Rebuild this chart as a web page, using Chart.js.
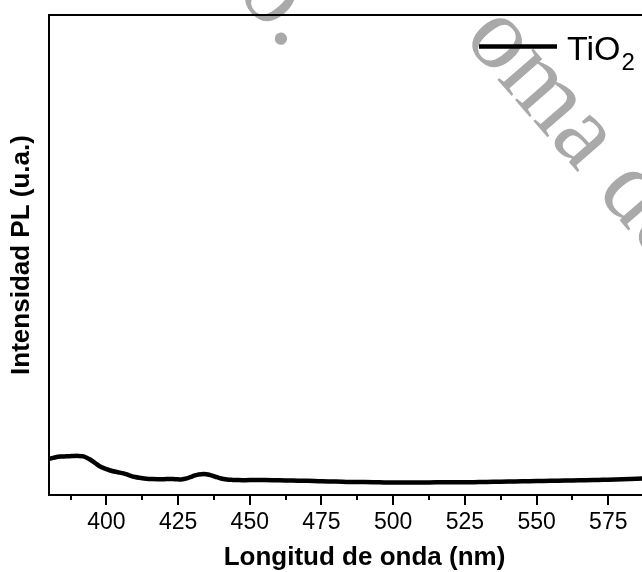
<!DOCTYPE html>
<html>
<head>
<meta charset="utf-8">
<script src="https://cdn.jsdelivr.net/npm/chart.js@4.4.1/dist/chart.umd.min.js"></script>
<style>
  html, body { margin: 0; padding: 0; overflow: hidden; background: #fff; }
  #wrap { width: 740px; height: 572px; }
</style>
</head>
<body>
<div id="wrap"><canvas id="plChart" width="740" height="572"></canvas></div>
<script>
// PL spectrum of TiO2 (arbitrary units)
const wavelength = [
  380, 382, 384, 386, 388, 390, 392, 394, 396, 398,
  400, 402, 404, 406, 408, 410, 412, 414, 416, 418,
  420, 422, 424, 426, 428, 430, 432, 434, 436, 438,
  440, 442, 444, 446, 450, 455, 460, 465, 470, 475,
  480, 485, 490, 495, 500, 505, 510, 515, 520, 525,
  530, 535, 540, 545, 550, 555, 560, 565, 570, 575,
  580, 585, 590, 595, 600,
];
const intensity = [
  75, 78, 80, 80.5, 81, 81.5, 80.5, 75, 67, 59,
  54, 50, 47.5, 45, 41, 37.5, 35.5, 34, 33.3, 33,
  33, 33.5, 33, 32.5, 34.5, 39, 42.5, 44, 42, 38,
  34.5, 32.5, 31.5, 31, 31, 31, 30.5, 30, 29.5, 28.5,
  28, 27, 27, 26.5, 26, 26, 26, 26.5, 26.5, 26.5,
  27, 27.5, 28, 28.5, 29, 29.5, 30, 30.5, 31, 32,
  33, 34, 35, 35.5, 36,
];
const majorTicks = [400, 425, 450, 475, 500, 525, 550, 575];
const minorTicks = [387.5, 412.5, 437.5, 462.5, 487.5, 512.5, 537.5, 562.5, 587.5];
const legendMain = "TiO";
const legendSub = "2";

const FONT = "'Liberation Sans', Arial, sans-serif";
const SERIF = "'Liberation Serif', 'Times New Roman', serif";

// grey diagonal watermark sitting behind the plot
const watermark = {
  id: "watermark",
  beforeDraw(chart) {
    const ctx = chart.ctx;
    const angle = 49 * Math.PI / 180;
    const size = 103;
    ctx.save();
    ctx.fillStyle = "#a9a9a9";
    ctx.font = size + "px " + SERIF;
    ctx.textBaseline = "alphabetic";
    const ow = ctx.measureText("o").width;

    ctx.save();
    ctx.translate(497, 43);
    ctx.rotate(angle);
    ctx.fillText("oma de", -ow / 2, size * 0.23);
    ctx.restore();

    ctx.save();
    ctx.translate(270, -3);
    ctx.rotate(angle);
    ctx.fillText("o.", -ow / 2, size * 0.23);
    ctx.restore();

    ctx.restore();
  },
};

// box frame plus major / minor tick marks on the x axis
const frame = {
  id: "frame",
  afterDraw(chart) {
    const { ctx, chartArea: a } = chart;
    const x = chart.scales.x;
    ctx.save();
    ctx.strokeStyle = "#000";
    ctx.lineWidth = 2;
    ctx.strokeRect(a.left, a.top, a.right - a.left, a.bottom - a.top);
    ctx.beginPath();
    majorTicks.forEach((v) => {
      const px = Math.round(x.getPixelForValue(v));
      ctx.moveTo(px, a.bottom);
      ctx.lineTo(px, a.bottom + 10);
    });
    minorTicks.forEach((v) => {
      const px = Math.round(x.getPixelForValue(v));
      ctx.moveTo(px, a.bottom);
      ctx.lineTo(px, a.bottom + 5);
    });
    ctx.stroke();
    ctx.restore();
  },
};

// legend entry with subscript
const legendBox = {
  id: "legendBox",
  afterDraw(chart) {
    const ctx = chart.ctx;
    ctx.save();
    ctx.strokeStyle = "#000";
    ctx.lineWidth = 4.5;
    ctx.beginPath();
    ctx.moveTo(479, 46.5);
    ctx.lineTo(557, 46.5);
    ctx.stroke();
    ctx.fillStyle = "#000";
    ctx.textBaseline = "alphabetic";
    ctx.font = "34px " + FONT;
    ctx.fillText(legendMain, 567, 60);
    const w = ctx.measureText(legendMain).width;
    ctx.font = "24px " + FONT;
    ctx.fillText(legendSub, 567 + w + 1, 70);
    ctx.restore();
  },
};

new Chart(document.getElementById("plChart"), {
  type: "line",
  data: {
    datasets: [
      {
        label: legendMain + legendSub,
        data: wavelength.map((w, i) => ({ x: w, y: intensity[i] })),
        borderColor: "#000",
        borderWidth: 4.5,
        pointRadius: 0,
        tension: 0.4,
        fill: false,
      },
    ],
  },
  options: {
    responsive: false,
    animation: false,
    devicePixelRatio: 1,
    layout: { padding: { top: 15, right: 60, left: 0, bottom: 0 } },
    plugins: {
      legend: { display: false },
      tooltip: { enabled: false },
    },
    scales: {
      x: {
        type: "linear",
        min: 380,
        max: 600,
        afterBuildTicks: (s) => {
          s.ticks = majorTicks.map((v) => ({ value: v }));
        },
        afterFit: (s) => {
          s.height = 77;
        },
        grid: { display: false, drawTicks: false },
        border: { display: false },
        ticks: {
          font: { family: FONT, size: 23 },
          color: "#000",
          padding: 14,
          maxRotation: 0,
          autoSkip: false,
        },
        title: {
          display: true,
          text: "Longitud de onda (nm)",
          color: "#000",
          font: { family: FONT, size: 26, weight: "bold", lineHeight: 1.1 },
          padding: { top: 0, bottom: 0 },
        },
      },
      y: {
        min: 0,
        max: 1000,
        afterFit: (s) => {
          s.width = 49;
        },
        grid: { display: false, drawTicks: false },
        border: { display: false },
        ticks: { display: false },
        title: {
          display: true,
          text: "Intensidad PL (u.a.)",
          color: "#000",
          font: { family: FONT, size: 26, weight: "bold", lineHeight: 1.1 },
          padding: { top: 8, bottom: 0 },
        },
      },
    },
  },
  plugins: [watermark, frame, legendBox],
});
</script>
</body>
</html>
